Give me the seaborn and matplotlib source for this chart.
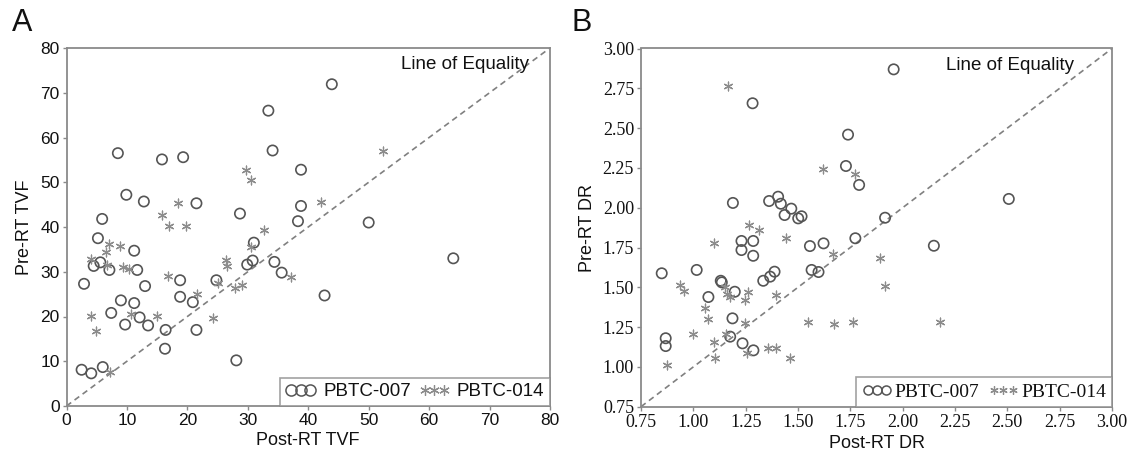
import matplotlib
matplotlib.use("Agg")
import matplotlib.pyplot as plt
import seaborn as sns
import pandas as pd
from matplotlib.lines import Line2D

# ---------------- data ----------------
groups = ["PBTC-007", "PBTC-014"]

tvf_post_007 = [8.5, 9.9, 12.8, 5.9, 15.8, 19.3, 21.5, 28.7, 33.4, 34.1, 38.8, 38.8, 38.3, 43.9, 50.0,
                5.2, 11.2, 4.5, 5.6, 7.1, 11.7, 2.9, 13.0, 18.8, 18.8, 9.0, 11.2, 7.4, 12.1, 9.7, 13.5,
                20.9, 24.8, 21.5, 16.4, 16.3, 2.5, 4.1, 6.0, 28.1, 29.9, 30.8, 31.0, 34.4, 35.6, 42.7, 64.0]
tvf_pre_007 = [56.5, 47.2, 45.7, 41.8, 55.1, 55.6, 45.3, 43.0, 66.0, 57.1, 52.8, 44.7, 41.3, 71.9, 41.0,
               37.5, 34.7, 31.3, 32.1, 30.4, 30.4, 27.3, 26.8, 28.1, 24.4, 23.6, 23.0, 20.8, 19.8, 18.2, 18.0,
               23.2, 28.1, 17.0, 17.0, 12.8, 8.1, 7.3, 8.7, 10.2, 31.6, 32.5, 36.5, 32.2, 29.8, 24.7, 33.0]
tvf_post_014 = [18.4, 15.8, 16.9, 19.8, 29.7, 30.6, 32.7, 52.4, 42.1, 7.1, 8.8, 6.6, 4.0, 6.7, 9.3, 10.4,
                16.8, 4.0, 10.6, 15.0, 4.9, 21.6, 25.1, 24.3, 7.2, 26.4, 26.5, 30.6, 27.9, 29.0, 37.1]
tvf_pre_014 = [45.3, 42.7, 40.3, 40.3, 52.8, 50.4, 39.3, 57.0, 45.6, 36.1, 35.8, 34.4, 32.8, 31.5, 31.0, 30.6,
               29.0, 20.2, 20.5, 20.2, 16.8, 25.1, 27.5, 19.7, 7.6, 32.6, 31.3, 35.6, 26.3, 27.0, 28.9]

dr_post_007 = [1.283, 1.739, 1.729, 1.792, 1.189, 1.362, 1.405, 1.418, 1.468, 1.436, 1.501, 1.517, 1.957,
               2.507, 1.916, 1.230, 1.286, 1.230, 1.286, 1.557, 1.622, 1.774, 0.849, 1.016, 1.565, 1.598,
               1.388, 1.367, 1.334, 1.131, 1.136, 1.198, 1.072, 1.187, 0.868, 0.868, 1.176, 1.235, 1.287, 2.149]
dr_pre_007 = [2.656, 2.459, 2.262, 2.143, 2.030, 2.042, 2.069, 2.025, 1.994, 1.954, 1.933, 1.946, 2.869,
              2.055, 1.937, 1.791, 1.791, 1.734, 1.698, 1.759, 1.776, 1.808, 1.588, 1.609, 1.609, 1.596,
              1.598, 1.567, 1.541, 1.541, 1.531, 1.472, 1.439, 1.305, 1.180, 1.131, 1.190, 1.148, 1.104, 1.761]
dr_post_014 = [1.166, 1.618, 1.772, 1.267, 1.315, 1.442, 1.099, 1.665, 1.152, 0.935, 0.956, 1.163, 1.174,
               1.248, 1.262, 1.395, 1.056, 1.071, 1.246, 1.549, 1.673, 1.764, 0.999, 1.155, 1.099, 1.104,
               1.256, 1.359, 1.395, 1.461, 0.876, 1.892, 1.917, 2.176]
dr_pre_014 = [2.766, 2.241, 2.210, 1.891, 1.860, 1.808, 1.776, 1.707, 1.504, 1.514, 1.477, 1.458, 1.441,
              1.420, 1.472, 1.452, 1.368, 1.299, 1.274, 1.280, 1.267, 1.284, 1.207, 1.205, 1.158, 1.058,
              1.085, 1.121, 1.117, 1.054, 1.012, 1.682, 1.510, 1.284]

tvf_ticks = [0, 10, 20, 30, 40, 50, 60, 70, 80]
dr_ticks = [0.75, 1.00, 1.25, 1.50, 1.75, 2.00, 2.25, 2.50, 2.75, 3.00]

# ---------------- style ----------------
sns.set_theme(style="white")
plt.rcParams["font.family"] = ["Liberation Sans", "DejaVu Sans"]

SPINE = "#8a8a8a"
CIRC = "#555555"
STAR = "#8c8c8c"
ASTER = (6, 2, 0)

fig = plt.figure(figsize=(11.33, 4.66), dpi=100)
W, H = 1133, 466
axA = fig.add_axes([66.5 / W, (H - 406) / H, (550 - 66.5) / W, (406 - 48) / H])
axB = fig.add_axes([641 / W, (H - 406.7) / H, (1112 - 641) / W, (406.7 - 48.5) / H])


def panel(ax, post7, pre7, post14, pre14, ticks, xlabel, ylabel, tickfont, legfont, txtpos, fmt, legopts):
    df7 = pd.DataFrame({"post": post7, "pre": pre7})
    df14 = pd.DataFrame({"post": post14, "pre": pre14})
    lo, hi = ticks[0], ticks[-1]
    ax.plot([lo, hi], [lo, hi], ls=(0, (3.5, 2.5)), color="#808080", lw=1.2, zorder=1)
    sns.scatterplot(data=df7, x="post", y="pre", ax=ax, marker="o", s=55,
                    facecolors="none", edgecolor=CIRC, linewidth=1.2, zorder=3)
    sns.scatterplot(data=df14, x="post", y="pre", ax=ax, marker=ASTER, s=40,
                    color=STAR, linewidth=0.9, zorder=3)
    ax.set_xlim(lo, hi)
    ax.set_ylim(lo, hi)
    ax.set_xticks(ticks)
    ax.set_yticks(ticks)
    ax.set_xticklabels([fmt(t) for t in ticks], fontdict=tickfont)
    ax.set_yticklabels([fmt(t) for t in ticks], fontdict=tickfont)
    ax.tick_params(axis="both", direction="out", length=3, width=1, color=SPINE,
                   pad=2, bottom=True, left=True)
    for sp in ax.spines.values():
        sp.set_color(SPINE)
        sp.set_linewidth(1.3)
        sp.set_visible(True)
    ax.set_xlabel(xlabel, fontsize=13, color="#111111", labelpad=3)
    ax.set_ylabel(ylabel, fontsize=13, color="#111111", labelpad=5)
    ax.text(txtpos[0], txtpos[1], "Line of Equality", ha="right", va="center",
            fontsize=13.5, color="#111111")
    ms = legopts.pop("ms")
    h7 = Line2D([], [], ls="none", marker="o", markersize=ms, markerfacecolor="none",
                markeredgecolor=CIRC, markeredgewidth=1.1)
    h14 = Line2D([], [], ls="none", marker=ASTER, markersize=ms - 0.5, color=STAR, markeredgewidth=0.9)
    leg = ax.legend([h7, h14], groups, loc="lower right", ncol=2, numpoints=3,
                    frameon=True, fancybox=False, borderaxespad=0, prop=legfont,
                    **legopts)
    leg.get_frame().set_edgecolor(SPINE)
    leg.get_frame().set_linewidth(1.2)
    for t in leg.get_texts():
        t.set_color("#111111")


panel(axA, tvf_post_007, tvf_pre_007, tvf_post_014, tvf_pre_014, tvf_ticks,
      "Post-RT TVF", "Pre-RT TVF",
      {"family": "Liberation Sans", "size": 12.5, "color": "#111111"},
      {"family": "Liberation Sans", "size": 13.5},
      (76.5, 76.4), lambda t: f"{t:d}",
      dict(ms=8, handlelength=1.6, handletextpad=0.4, columnspacing=0.45, borderpad=0.3))
panel(axB, dr_post_007, dr_pre_007, dr_post_014, dr_pre_014, dr_ticks,
      "Post-RT DR", "Pre-RT DR",
      {"family": "Liberation Serif", "size": 13, "color": "#111111"},
      {"family": "Liberation Serif", "size": 14},
      (2.82, 2.896), lambda t: f"{t:.2f}",
      dict(ms=6.5, handlelength=1.55, handletextpad=0.15, columnspacing=0.45, borderpad=0.3))

fig.text(12 / W, 1 - 23 / H, "A", fontsize=22, va="center", ha="left", color="#111111")
fig.text(572 / W, 1 - 23 / H, "B", fontsize=22, va="center", ha="left", color="#111111")

fig.savefig("out.png", dpi=100)
